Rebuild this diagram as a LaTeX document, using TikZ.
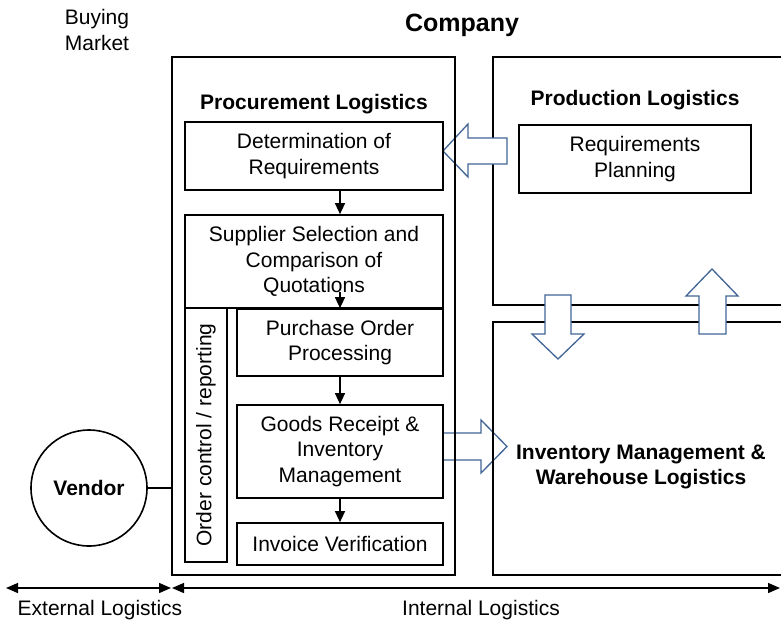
\documentclass[tikz,border=0pt]{standalone}
\usepackage{fontspec}
\setmainfont{Liberation Sans}
\usetikzlibrary{arrows.meta}
\definecolor{arrowblue}{RGB}{65,100,150}
\newcommand{\txtsize}{\fontsize{21}{25.5}\selectfont}
\newcommand{\bigsize}{\fontsize{25}{30}\selectfont}
\tikzset{
  frame/.style={draw, line width=2pt},
  box/.style={draw, line width=1.7pt, inner sep=0pt, align=center, font=\txtsize},
  heading/.style={font=\bfseries\txtsize, align=center},
  plain/.style={font=\txtsize, align=center},
  flow/.style={-{Triangle[length=11pt,width=10pt]}, line width=1.4pt},
  span/.style={{Triangle[length=12pt,width=10pt]}-{Triangle[length=12pt,width=10pt]}, line width=1.4pt},
  blockarrow/.style={draw=arrowblue, line width=1.3pt, fill=white, line join=miter}
}
\begin{document}
\begin{tikzpicture}[x=1pt,y=-1pt]
\useasboundingbox (0,0) rectangle (781,624);

% titles
\node[plain] (market) at (97,30) {Buying\\Market};
\node[font=\bfseries\bigsize] (company) at (462,25) {Company};

% flow from goods receipt to the warehouse (lies under the frames)
\draw[blockarrow] (443,433) -- (481,433) -- (481,420) -- (507,446.5)
  -- (481,473) -- (481,460) -- (443,460);

% production and warehouse areas, open to the right
\draw[frame] (781,57) -| (493,305) -- (781,305);
\draw[frame] (781,322) -| (493,575) -- (781,575);
\node[heading] (prodtitle) at (635,100) {Production Logistics};
\node[box, minimum width=232pt, minimum height=68pt] (reqplan) at (635,159) {Requirements\\Planning};
\node[heading] (invtitle) at (641,467) {Inventory Management \&\\Warehouse Logistics};

% requirements passed to procurement
\draw[blockarrow] (443,151) -- (468,124) -- (468,138) -- (507,138)
  -- (507,164) -- (468,164) -- (468,177) -- cycle;

% exchange between production and warehouse
\draw[blockarrow] (545,295) -- (571,295) -- (571,334) -- (584,334)
  -- (558,359) -- (532,334) -- (545,334) -- cycle;
\draw[blockarrow] (699,334) -- (726,334) -- (726,296) -- (738,296)
  -- (712,269) -- (686,296) -- (699,296) -- cycle;

% procurement logistics
\node[frame, minimum width=283pt, minimum height=518pt, inner sep=0pt] (proc) at (313.5,316) {};
\node[heading] (proctitle) at (314,104) {Procurement Logistics};
\node[box, minimum width=258pt, minimum height=68pt] (det) at (314,156) {Determination of\\Requirements};
\node[box, minimum width=258pt, minimum height=93pt] (sup) at (314,261.5) {Supplier Selection and\\Comparison of\\Quotations};
\node[box, rotate=90, minimum width=254pt, minimum height=42pt] (ord) at (206,435) {Order control / reporting};
\node[box, minimum width=206pt, minimum height=67pt] (pur) at (340,342.5) {Purchase Order\\Processing};
\node[box, minimum width=206pt, minimum height=93pt] (goods) at (340,451.5) {Goods Receipt \&\\Inventory\\Management};
\node[box, minimum width=206pt, minimum height=42pt] (inv) at (340,544) {Invoice Verification};

\draw[flow] (det.south -| pur.north) -- (sup.north -| pur.north);
\draw[flow] ([yshift=16pt]pur.north) -- (pur.north);
\draw[flow] (pur.south) -- (goods.north);
\draw[flow] (goods.south) -- (inv.north);

% vendor
\node[draw, circle, line width=1.6pt, minimum size=116pt, font=\bfseries\txtsize] (vendor) at (89,488) {Vendor};
\draw[line width=1.6pt] (vendor.east) -- (vendor.east -| proc.west);

% logistics ranges
\coordinate (extstart) at (6,588);
\coordinate (split) at (proc.west |- extstart);
\coordinate (intend) at (780,588);
\draw[span] (extstart) -- (split);
\draw[span] ([xshift=1pt]split) -- (intend);
\node[plain] (extlabel) at (100,610) {External Logistics};
\node[plain] (intlabel) at (481,610) {Internal Logistics};
\end{tikzpicture}
\end{document}
